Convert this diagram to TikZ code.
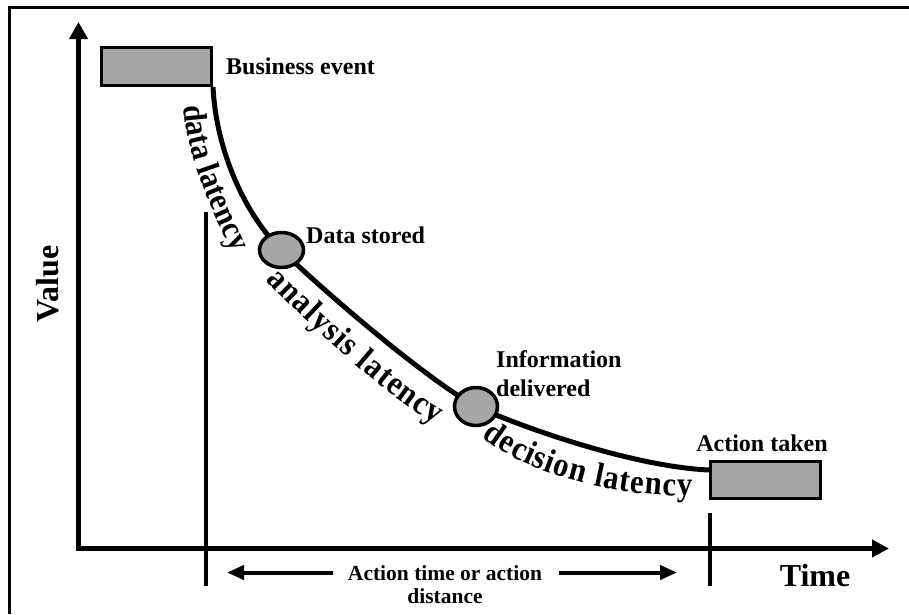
\documentclass[tikz,border=0pt]{standalone}
\usepackage{fontspec}
\setmainfont{Liberation Serif}
\newfontfamily\narrowbold[FakeStretch=0.9,UprightFont={* Bold}]{Liberation Serif}
\usetikzlibrary{arrows.meta,decorations.text,shapes.geometric}
\pgfdeclarelayer{back}
\pgfsetlayers{back,main}
\definecolor{boxgray}{RGB}{166,166,166}

\begin{document}
\begin{tikzpicture}[x=1pt,y=-1pt,
  lbl/.style={font=\bfseries\fontsize{24}{24}\selectfont, inner sep=0pt},
  box/.style={draw, line width=3pt, fill=boxgray, rectangle, inner sep=0pt,
              minimum width=110pt, minimum height=37pt},
  milestone/.style={draw, line width=3.5pt, fill=boxgray, ellipse, inner sep=0pt},
  axis/.style={line width=5pt, line join=miter},
  tick/.style={line width=3.5pt},
  curve/.style={line width=5pt},
  latency/.style={decorate, decoration={text along path, text align=fit to path}},
]
\useasboundingbox (0,0) rectangle (909,614);

% frame
\draw[line width=3pt] (9.5,614) -- (9.5,7.5) -- (909,7.5);

% axes
\coordinate (O) at (78.5,548.5);
\coordinate (ytip) at (78.5,22);
\coordinate (xtip) at (889,548.5);
\draw[axis, {Triangle[length=17pt,width=18pt]}-{Triangle[length=17pt,width=17pt]}]
  (ytip) -- (O) -- (xtip);

% event markers
\node[box, minimum height=38pt] (be) at (156.5,66.5) {};
\node[box] (at) at (765.5,480) {};
\node[milestone, minimum width=44pt, minimum height=35pt] (ds) at (281.5,250) {};
\node[milestone, minimum width=43pt, minimum height=38pt] (id) at (476,406.5) {};

% value curve
\begin{pgfonlayer}{back}
\draw[curve] (be.south east) .. controls (216,150) and (245,215) .. (ds.center)
  .. controls (315,283) and (420,375) .. (id.center)
  .. controls (536,433) and (640,467) .. ([yshift=10pt]at.west);
\end{pgfonlayer}

% latency labels, set on baselines running below the curve
\path[latency, decoration={
  text={|\narrowbold\fontsize{33}{33}\selectfont|data latency}}]
  (184,106) .. controls (187,160) and (212,207) .. (232,253);
\path[latency, decoration={
  text={|\narrowbold\fontsize{34}{34}\selectfont|analysis latency}}]
  (266,280) .. controls (300,317) and (385,396) .. (436,424);
\path[latency, decoration={
  text={|\narrowbold\fontsize{34}{34}\selectfont|decision latency}}]
  (482,437) .. controls (525,471) and (600,496) .. (692,496);

% labels
\node[lbl, anchor=base west] (bet) at (226,74) {Business event};
\node[lbl, anchor=base west] (dst) at (306,243) {Data stored};
\node[lbl, anchor=north west, align=left, font=\bfseries\fontsize{24}{29}\selectfont]
  (idt) at (496,350) {Information\\delivered};
\node[lbl, anchor=base] (att) at (762,451) {Action taken};
\node[lbl, anchor=base, font=\bfseries\fontsize{32}{32}\selectfont] (time) at (815,586) {Time};
\node[lbl, rotate=90, font=\bfseries\fontsize{32}{32}\selectfont] (value) at (48,284) {Value};

% action span
\coordinate (m1top) at (206,212);
\coordinate (m1bot) at (206,586);
\coordinate (m2top) at (710,513);
\coordinate (m2bot) at (710,586);
\draw[tick] (m1top) -- (m1bot);
\draw[tick] (m2top) -- (m2bot);

\node[lbl, align=center, anchor=north, font=\bfseries\fontsize{21.5}{23}\selectfont]
  (span) at (445,565) {Action time or action\\distance};
\coordinate (sltail) at (333,572.5);
\coordinate (sltip) at (227,572.5);
\coordinate (srtail) at (559,572.5);
\coordinate (srtip) at (677,572.5);
\draw[line width=4pt, -{Triangle[length=17pt,width=14pt]}] (sltail) -- (sltip);
\draw[line width=4pt, -{Triangle[length=17pt,width=14pt]}] (srtail) -- (srtip);
\end{tikzpicture}
\end{document}
